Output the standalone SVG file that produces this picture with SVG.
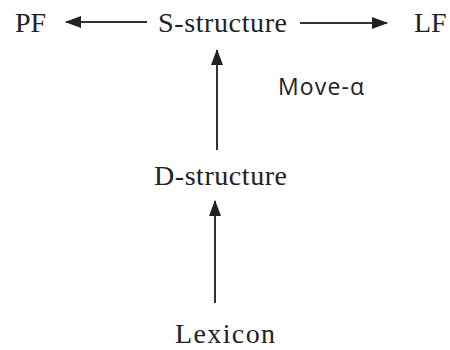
<svg xmlns="http://www.w3.org/2000/svg" width="450" height="350" viewBox="0 0 450 350">
<style>
.t{font-family:"Liberation Serif","Times New Roman",serif;font-size:28px;fill:#222}
.s{font-family:"Open Sans","Liberation Sans",sans-serif;font-size:23px;fill:#222}
.c{stroke:#333;stroke-width:2;fill:none}
</style>
<defs>
<marker id="ah" viewBox="0 0 16 12" refX="15" refY="6" markerWidth="16" markerHeight="12" markerUnits="userSpaceOnUse" orient="auto">
<path d="M0,0 L16,6 L0,12 Z" fill="#222"/>
</marker>
</defs>
<rect width="450" height="350" fill="#fff"/>
<g id="connectors">
<line class="c" x1="147" y1="22" x2="66" y2="22" marker-end="url(#ah)"/>
<line class="c" x1="300" y1="23" x2="387" y2="23" marker-end="url(#ah)"/>
<line class="c" x1="217" y1="150" x2="217" y2="50" marker-end="url(#ah)"/>
<line class="c" x1="215" y1="303" x2="215" y2="201" marker-end="url(#ah)"/>
</g>
<g id="PF"><text class="t" x="15" y="32">PF</text></g>
<g id="S-structure"><text class="t" x="158" y="32" textLength="129">S-structure</text></g>
<g id="LF"><text class="t" x="414" y="32">LF</text></g>
<g id="move"><text class="s" x="278" y="95" textLength="86">Move-α</text></g>
<g id="D-structure"><text class="t" x="154" y="185" textLength="133">D-structure</text></g>
<g id="Lexicon"><text class="t" x="175" y="343" textLength="100">Lexicon</text></g>
</svg>
